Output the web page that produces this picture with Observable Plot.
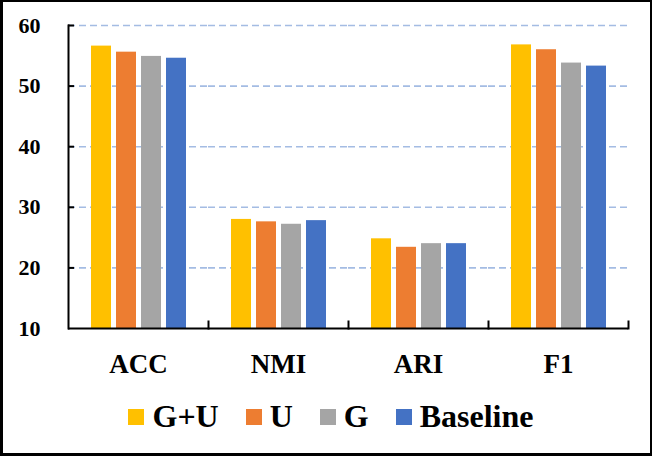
<!DOCTYPE html>
<html>
<head>
<meta charset="utf-8">
<script src="https://cdn.jsdelivr.net/npm/d3@7"></script>
<script src="https://cdn.jsdelivr.net/npm/@observablehq/plot@0.6"></script>
<style>
  html, body { margin: 0; padding: 0; background: #fff; }
  #wrap { position: relative; width: 652px; height: 456px; overflow: hidden; background: #fff; }
  #wrap svg { display: block; }
  #border { position: absolute; left: 0; top: 0; width: 652px; height: 456px; box-sizing: border-box;
            border-style: solid; border-color: #000; border-width: 2px 2px 3px 3px; pointer-events: none; }
  #legend { height: 53px; display: flex; align-items: center; justify-content: center; padding-left: 10px;
            font-family: "Liberation Serif", "Times New Roman", serif; font-weight: bold; font-size: 32px; color: #000; }
  .item { display: flex; align-items: center; margin-right: 27px; }
  .item:last-child { margin-right: 0; }
  .sw { width: 16px; height: 16px; margin-right: 8px; }
</style>
</head>
<body>
<div id="wrap"><div id="chart"></div><div id="legend"></div><div id="border"></div></div>
<script>
const metrics = ["ACC", "NMI", "ARI", "F1"];
const methods = ["G+U", "U", "G", "Baseline"];
const colors = ["#FFC000", "#ED7D31", "#A5A5A5", "#4472C4"];
const valuesGU = [56.6, 28.0, 24.8, 56.8];
const valuesU = [55.6, 27.6, 23.4, 56.0];
const valuesG = [54.9, 27.2, 24.0, 53.8];
const valuesBaseline = [54.6, 27.8, 24.0, 53.3];
const yTicks = [10, 20, 30, 40, 50, 60];

const series = [valuesGU, valuesU, valuesG, valuesBaseline];
const data = [];
metrics.forEach((m, i) => methods.forEach((s, j) => data.push({metric: m, method: s, value: series[j][i]})));

const font = "'Liberation Serif', 'Times New Roman', serif";

const chart = Plot.plot({
  width: 652,
  height: 390,
  marginLeft: 67,
  marginRight: 24,
  marginTop: 25,
  marginBottom: 62,
  style: {fontFamily: font, background: "transparent", color: "#000"},
  fx: {domain: metrics, padding: 0, label: null},
  x: {domain: methods, paddingInner: 0.2, paddingOuter: 0.9, axis: null},
  y: {domain: [10, 60]},
  color: {domain: methods, range: colors},
  marks: [
    Plot.gridY(yTicks.slice(1), {stroke: "#A4BCE3", strokeOpacity: 1, strokeWidth: 1.6, strokeDasharray: "7,4"}),
    Plot.barY(data, {fx: "metric", x: "method", y1: 10, y2: "value", fill: "method"}),
    Plot.ruleY([10], {stroke: "#000", strokeWidth: 2}),
    Plot.frame({anchor: "left", facetAnchor: "left", stroke: "#000", strokeWidth: 2}),
    Plot.frame({anchor: "right", insetTop: 296, stroke: "#000", strokeWidth: 2}),
    Plot.axisY(yTicks, {tickSize: 0, tickPadding: 28, fontSize: 22, fontWeight: "bold", fill: "#000", label: null}),
    Plot.axisY(yTicks.slice(1), {text: null, tickSize: -6, strokeWidth: 2, stroke: "#000", label: null}),
    Plot.axisFx({anchor: "bottom", tickSize: 0, tickPadding: 25, fontSize: 27, fontWeight: "bold", fill: "#000", label: null})
  ]
});
chart.querySelectorAll("text").forEach(t => {
  const s = t.textContent.trim();
  if (yTicks.map(String).includes(s)) {
    t.style.fontSize = "22px"; t.style.fontWeight = "bold"; t.style.fontFamily = font;
  } else if (metrics.includes(s)) {
    t.style.fontSize = "27px"; t.style.fontWeight = "bold"; t.style.fontFamily = font;
  }
});
document.getElementById("chart").appendChild(chart);

const legend = document.getElementById("legend");
methods.forEach((m, i) => {
  const item = document.createElement("div");
  item.className = "item";
  const sw = document.createElement("div");
  sw.className = "sw";
  sw.style.background = colors[i];
  const t = document.createElement("span");
  t.textContent = m;
  item.appendChild(sw);
  item.appendChild(t);
  legend.appendChild(item);
});
</script>
</body>
</html>
